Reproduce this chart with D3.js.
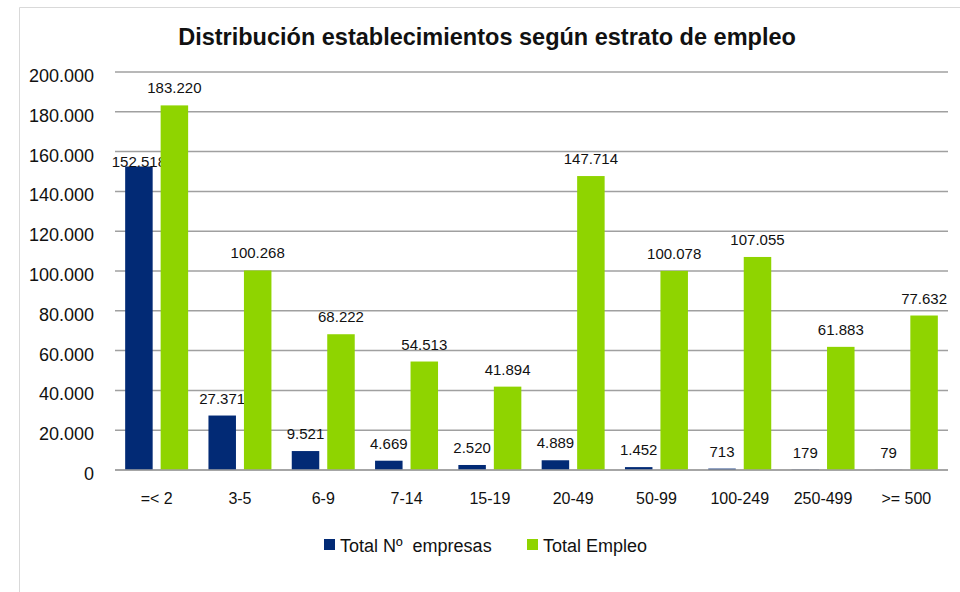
<!DOCTYPE html>
<html>
<head>
<meta charset="utf-8">
<title>Distribución establecimientos según estrato de empleo</title>
<style>
  body { margin: 0; background: #fff; }
  text { font-family: "Liberation Sans", Arial, sans-serif; fill: #111; }
</style>
</head>
<body>
<script src="https://d3js.org/d3.v7.min.js"></script>
<script>
// datos
let categories = ["=< 2", "3-5", "6-9", "7-14", "15-19", "20-49", "50-99", "100-249", "250-499", ">= 500"];
let empresas = [152518, 27371, 9521, 4669, 2520, 4889, 1452, 713, 179, 79];
let empleo = [183220, 100268, 68222, 54513, 41894, 147714, 100078, 107055, 61883, 77632];
let seriesNames = ["Total Nº  empresas", "Total Empleo"];
let yTicks = [0, 20000, 40000, 60000, 80000, 100000, 120000, 140000, 160000, 180000, 200000];

let width = 960, height = 592;
let colors = ["#022a75", "#8fd400"];

let es = d3.formatLocale({decimal: ",", thousands: ".", grouping: [3], currency: ["", ""]});
let fmt = es.format(",d");

let svg = d3.select("body").append("svg")
  .attr("width", width)
  .attr("height", height);

// marco
svg.append("path")
  .attr("d", "M19.5," + height + "V7.5H" + width)
  .attr("fill", "none")
  .attr("stroke", "#d9d9d9");

// titulo
svg.append("text")
  .attr("x", 487)
  .attr("y", 45)
  .attr("text-anchor", "middle")
  .style("font-size", "23.5px")
  .style("font-weight", "bold")
  .text("Distribución establecimientos según estrato de empleo");

let x = d3.scaleBand()
  .domain(categories)
  .range([115, 948])
  .paddingInner(0.244)
  .paddingOuter(0.122);

let xs = d3.scaleBand()
  .domain([0, 1])
  .range([0, x.bandwidth()])
  .paddingInner(0.225);

let y = d3.scaleLinear()
  .domain([0, 200000])
  .range([470, 72]);

// lineas de grilla
svg.selectAll(".grid")
  .data(yTicks)
  .join("line")
  .attr("class", "grid")
  .attr("x1", 115)
  .attr("x2", 948)
  .attr("y1", d => y(d))
  .attr("y2", d => y(d))
  .attr("stroke", "#a0a0a0")
  .attr("stroke-width", 1.5);

svg.selectAll(".ytick")
  .data(yTicks)
  .join("text")
  .attr("class", "ytick")
  .attr("x", 94)
  .attr("y", d => y(d) + 10)
  .attr("text-anchor", "end")
  .style("font-size", "18px")
  .text(d => fmt(d));

let rows = [empresas, empleo];

rows.forEach(function (values, s) {
  let g = svg.append("g");
  g.selectAll("rect")
    .data(values)
    .join("rect")
    .attr("x", (d, i) => x(categories[i]) + xs(s))
    .attr("width", xs.bandwidth())
    .attr("y", d => y(d))
    .attr("height", d => y(0) - y(d))
    .attr("fill", colors[s]);

  g.selectAll("text")
    .data(values)
    .join("text")
    .attr("x", (d, i) => x(categories[i]) + xs(s) + xs.bandwidth() / 2)
    .attr("y", (d, i) => {
      // la etiqueta del primer valor queda más baja en el original
      if (s === 0 && i === 0) return y(d) + 1;
      return y(d) - 12;
    })
    .attr("text-anchor", "middle")
    .style("font-size", "15px")
    .text(d => fmt(d));
});

// eje x
svg.append("line")
  .attr("x1", 115)
  .attr("x2", 948)
  .attr("y1", y(0))
  .attr("y2", y(0))
  .attr("stroke", "#a0a0a0")
  .attr("stroke-width", 1.5);

svg.selectAll(".xlabel")
  .data(categories)
  .join("text")
  .attr("class", "xlabel")
  .attr("x", d => x(d) + x.bandwidth() / 2)
  .attr("y", 504)
  .attr("text-anchor", "middle")
  .style("font-size", "16px")
  .text(d => d);

// leyenda
let legendX = [324, 527];
seriesNames.forEach(function (name, i) {
  let item = svg.append("g")
    .attr("transform", `translate(${legendX[i]}, 539)`);
  item.append("rect")
    .attr("width", 11)
    .attr("height", 11)
    .attr("fill", colors[i]);
  item.append("text")
    .attr("x", 16)
    .attr("y", 13)
    .style("font-size", "18px")
    .style("white-space", "pre")
    .attr("xml:space", "preserve")
    .text(name);
});
</script>
</body>
</html>
